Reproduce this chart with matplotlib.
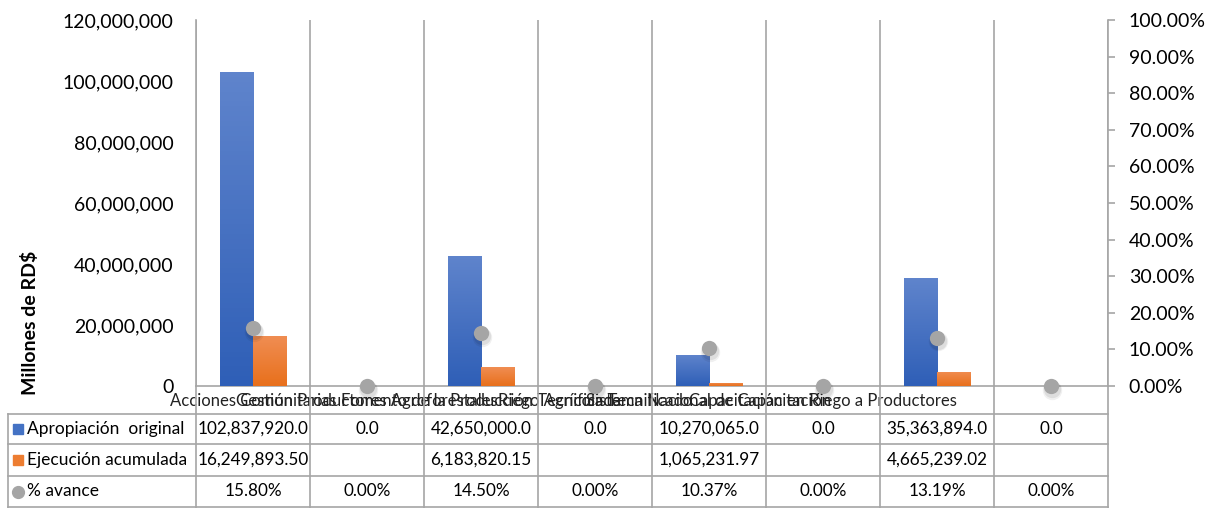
import numpy as np
import matplotlib.pyplot as plt
from matplotlib.ticker import FuncFormatter, MultipleLocator
from matplotlib.lines import Line2D
from matplotlib.colors import LinearSegmentedColormap

plt.rcParams['font.family'] = ['Lato', 'DejaVu Sans']

# datos
categorias = ["Acciones Comunitarias", "Gestión Productores Agroforestales",
              "Fomento de la Producción Tecnificada", "Riego Agrícola Tecnificado",
              "Sistema Nacional de Capacitación", "Capacitación en Riego a Productores",
              "", ""]
apropiacion = [102837920.0, 0.0, 42650000.0, 0.0, 10270065.0, 0.0, 35363894.0, 0.0]
ejecucion = [16249893.50, None, 6183820.15, None, 1065231.97, None, 4665239.02, None]
avance = [15.80, 0.00, 14.50, 0.00, 10.37, 0.00, 13.19, 0.00]

series_nombres = ["Apropiación  original", "Ejecución acumulada", "% avance"]

AZUL = '#4472C4'
NARANJA = '#ED7D31'
GRIS = '#A5A5A5'
LINEA = '#A6A6A6'

W, H = 1211, 508
fig = plt.figure(figsize=(W / 100, H / 100), dpi=100)
ax = fig.add_axes([196 / W, 1 - 386 / H, (1108 - 196) / W, (386 - 20) / H])

n = len(categorias)
x = np.arange(n)
ancho = 0.29
ejec_vals = [v if v is not None else 0 for v in ejecucion]

b1 = ax.bar(x - ancho / 2, apropiacion, ancho, color=AZUL, zorder=3)
b2 = ax.bar(x + ancho / 2, ejec_vals, ancho, color=NARANJA, zorder=3)

# degradado como en Excel
grad = np.linspace(0, 1, 64).reshape(-1, 1)
cm_azul = LinearSegmentedColormap.from_list('az', ['#2F5FB7', '#5F84CC'])
cm_nar = LinearSegmentedColormap.from_list('na', ['#E8701C', '#F08D52'])
for barras, cm in [(b1, cm_azul), (b2, cm_nar)]:
    for p in barras:
        if p.get_height() <= 0:
            continue
        x0, y0 = p.get_x(), p.get_y()
        im = ax.imshow(grad, cmap=cm, aspect='auto', origin='lower', zorder=3.5,
                       extent=[x0, x0 + p.get_width(), y0, y0 + p.get_height()])
        im.set_clip_path(p)

ax.set_xlim(-0.5, n - 0.5)
ax.set_ylim(0, 120000000)
ax.yaxis.set_major_locator(MultipleLocator(20000000))
ax.yaxis.set_major_formatter(FuncFormatter(lambda v, p: f"{v:,.0f}"))
ax.tick_params(axis='y', length=0, pad=16, labelsize=14)
ax.set_xticks(x)
ax.set_xticklabels([])
ax.tick_params(axis='x', length=0)
ax.set_xticks(np.arange(-0.5, n), minor=True)
ax.tick_params(axis='x', which='minor', length=0)
ax.grid(which='minor', axis='x', color=LINEA, lw=1.2, zorder=0)
for s in ['top', 'right']:
    ax.spines[s].set_visible(False)
for s in ['left', 'bottom']:
    ax.spines[s].set_color(LINEA)
    ax.spines[s].set_linewidth(1.2)

for i, c in enumerate(categorias):
    ax.text(i, -0.04, c, transform=ax.get_xaxis_transform(), ha='center', va='center',
            fontsize=12, color='#222222', clip_on=False)

ax2 = ax.twinx()
ax2.set_ylim(0, 100)
ax2.yaxis.set_major_locator(MultipleLocator(10))
ax2.yaxis.set_major_formatter(FuncFormatter(lambda v, p: f"{v:.2f}%"))
ax2.tick_params(axis='y', length=5, width=1.2, color=LINEA, pad=10, labelsize=14)
for s in ['top', 'left', 'bottom']:
    ax2.spines[s].set_visible(False)
ax2.spines['right'].set_color(LINEA)
ax2.spines['right'].set_linewidth(1.2)

# sombra y puntos
for off, ms, al in [(-1.0, 14, 0.06), (-0.9, 12.5, 0.08)]:
    ax2.plot(x + 0.01, np.array(avance) + off, 'o', ms=ms, color='black', alpha=al,
             mec='none', ls='none', zorder=4, clip_on=False)
ax2.plot(x, avance, 'o', ms=11, color=GRIS, mec='none', ls='none', zorder=5, clip_on=False)

fig.text(30 / W, 1 - 323 / H, "Millones de RD$", rotation=90, ha='center', va='center',
         fontsize=14, fontweight='bold')

# tabla de datos
pos = ax.get_position()
bordes = [pos.x0 + (b + 0.5) / n * pos.width for b in np.arange(-0.5, n)]
centros = [pos.x0 + (i + 0.5) / n * pos.width for i in range(n)]
fy = lambda py: 1 - py / H
filas = [414, 444, 476, 507]
izq = 8 / W

for b in bordes:
    fig.add_artist(Line2D([b, b], [fy(386), fy(508)], color=LINEA, lw=1.2))
fig.add_artist(Line2D([izq, izq], [fy(filas[0]), fy(508)], color=LINEA, lw=1.2))
for r in filas:
    fig.add_artist(Line2D([izq, bordes[-1]], [fy(r), fy(r)], color=LINEA, lw=1.2))

filas_txt = [
    [f"{v:,.1f}" for v in apropiacion],
    [f"{v:,.2f}" if v is not None else "" for v in ejecucion],
    [f"{v:.2f}%" for v in avance],
]
marcas = [('s', AZUL), ('s', NARANJA), ('o', GRIS)]
for k in range(3):
    yc = fy((filas[k] + filas[k + 1]) / 2)
    m, col = marcas[k]
    fig.add_artist(Line2D([18 / W], [yc], marker=m, ms=7 if m == 's' else 8.5,
                          color=col, ls='none'))
    fig.text(27 / W, yc, series_nombres[k], ha='left', va='center', fontsize=12.5)
    for i in range(n):
        fig.text(centros[i], yc, filas_txt[k][i], ha='center', va='center', fontsize=12.3)

fig.savefig('out.png', dpi=100)
